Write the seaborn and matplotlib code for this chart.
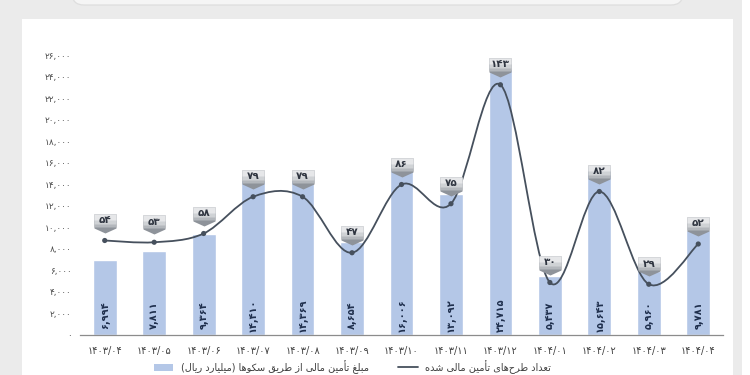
import numpy as np
import matplotlib
matplotlib.use('Agg')
import matplotlib.pyplot as plt
import seaborn as sns
from matplotlib.path import Path
from matplotlib.patches import PathPatch, Rectangle, FancyBboxPatch, Patch
from matplotlib.lines import Line2D

# data
periods = ['1403/04', '1403/05', '1403/06', '1403/07', '1403/08', '1403/09', '1403/10',
           '1403/11', '1403/12', '1404/01', '1404/02', '1404/03', '1404/04']
amounts = [6994, 7811, 9364, 14410, 14369, 8654, 16006, 13092, 24715, 5437, 15643, 5960, 9781]
counts = [54, 53, 58, 79, 79, 47, 86, 75, 143, 30, 82, 29, 52]
y_ticks = list(range(0, 26001, 2000))
legend_labels = ['مبلغ تأمین مالی از طریق سکوها (میلیارد ریال)',
                 'تعداد طرح‌های تأمین مالی شده']

BAR_COLOR = '#b4c7e7'
LINE_COLOR = '#46505d'

FA_DIGITS = str.maketrans('0123456789', '۰۱۲۳۴۵۶۷۸۹')


def fa(s):
    return str(s).translate(FA_DIGITS)


# minimal persian shaping (isolated, final, initial, medial)
FORMS = {
    'ا': ('\uFE8D', '\uFE8E', None, None),
    'أ': ('\uFE83', '\uFE84', None, None),
    'ب': ('\uFE8F', '\uFE90', '\uFE91', '\uFE92'),
    'ت': ('\uFE95', '\uFE96', '\uFE97', '\uFE98'),
    'ح': ('\uFEA1', '\uFEA2', '\uFEA3', '\uFEA4'),
    'د': ('\uFEA9', '\uFEAA', None, None),
    'ر': ('\uFEAD', '\uFEAE', None, None),
    'ز': ('\uFEAF', '\uFEB0', None, None),
    'س': ('\uFEB1', '\uFEB2', '\uFEB3', '\uFEB4'),
    'ش': ('\uFEB5', '\uFEB6', '\uFEB7', '\uFEB8'),
    'ط': ('\uFEC1', '\uFEC2', '\uFEC3', '\uFEC4'),
    'ع': ('\uFEC9', '\uFECA', '\uFECB', '\uFECC'),
    'غ': ('\uFECD', '\uFECE', '\uFECF', '\uFED0'),
    'ق': ('\uFED5', '\uFED6', '\uFED7', '\uFED8'),
    'ک': ('\uFB8E', '\uFB8F', '\uFB90', '\uFB91'),
    'ل': ('\uFEDD', '\uFEDE', '\uFEDF', '\uFEE0'),
    'م': ('\uFEE1', '\uFEE2', '\uFEE3', '\uFEE4'),
    'ن': ('\uFEE5', '\uFEE6', '\uFEE7', '\uFEE8'),
    'ه': ('\uFEE9', '\uFEEA', '\uFEEB', '\uFEEC'),
    'و': ('\uFEED', '\uFEEE', None, None),
    'ی': ('\uFBFC', '\uFBFD', '\uFBFE', '\uFBFF'),
}


def shape(text):
    def links_left(c):
        return c in FORMS and FORMS[c][2] is not None
    out = []
    for i, c in enumerate(text):
        if c == '\u200c':
            continue
        if c not in FORMS:
            out.append({'(': ')', ')': '('}.get(c, c))
            continue
        prev_join = i > 0 and links_left(text[i - 1])
        next_join = i < len(text) - 1 and text[i + 1] in FORMS and links_left(c)
        iso, fin, ini, med = FORMS[c]
        if prev_join and next_join:
            out.append(med)
        elif prev_join:
            out.append(fin)
        elif next_join:
            out.append(ini)
        else:
            out.append(iso)
    return ''.join(reversed(out))


sns.set_theme(style='white')
plt.rcParams['font.family'] = ['DejaVu Sans']

fig = plt.figure(figsize=(7.5, 3.75), dpi=100)
fig.patch.set_facecolor('#ebebeb')
fig.add_artist(Rectangle((22 / 750, 0), (733 - 22) / 750, (375 - 19) / 375,
                         transform=fig.transFigure, facecolor='white', edgecolor='none', zorder=0))
fig.add_artist(Rectangle((742 / 750, 0), 8 / 750, 1, transform=fig.transFigure,
                         facecolor='white', edgecolor='none', zorder=0))
fig.add_artist(FancyBboxPatch((0.72, 3.70), 6.11, 0.4, boxstyle='round,pad=0,rounding_size=0.12',
                              transform=fig.dpi_scale_trans, facecolor='#f5f5f5',
                              edgecolor='#dedede', lw=0.9, zorder=0))

ax = fig.add_axes([80 / 750, 40 / 375, 643 / 750, 280 / 375])
ax.set_facecolor('none')
sns.barplot(x=periods, y=amounts, color=BAR_COLOR, saturation=1, width=0.48, ax=ax)

x_pos = np.arange(len(periods))
ax.set_xlim(-0.5, len(periods) - 0.5)
ax.set_ylim(0, 26000)
ax.set_yticks(y_ticks)
ax.set_yticklabels([fa(f'{v:,}') for v in y_ticks], fontsize=6.5, color='#4d4d4d')
ax.set_xticks(x_pos)
ax.set_xticklabels([fa(p) for p in periods], fontsize=7, color='#404040')
ax.set_xticks(np.arange(-0.5, len(periods)), minor=True)
ax.tick_params(axis='y', length=0, pad=6)
ax.tick_params(axis='x', which='major', length=0, pad=8)
ax.tick_params(axis='x', which='minor', length=4, width=0.7, color='#8c8c8c', direction='out')
ax.set_xlabel('')
ax.set_ylabel('')
for side in ['top', 'right', 'left']:
    ax.spines[side].set_visible(False)
ax.spines['bottom'].set_color('#8c8c8c')
ax.spines['bottom'].set_linewidth(0.9)

for i, v in enumerate(amounts):
    ax.text(i, 1800, fa(f'{v:,}'), rotation=90, ha='center', va='center',
            fontsize=7, fontweight='bold', color='#1f2f4d')

# secondary axis for the count line
ax2 = ax.twinx()
ax2.set_ylim(0, 160)
ax2.set_axis_off()

# smooth line (catmull-rom as bezier, like excel's smoothed line)
pts = np.column_stack([x_pos, counts]).astype(float)
verts = [pts[0]]
codes = [Path.MOVETO]
for k in range(len(pts) - 1):
    p_prev = pts[k - 1] if k > 0 else pts[k]
    p_next = pts[k + 2] if k + 2 < len(pts) else pts[k + 1]
    c1 = pts[k] + (pts[k + 1] - p_prev) / 6
    c2 = pts[k + 1] - (p_next - pts[k]) / 6
    verts += [c1, c2, pts[k + 1]]
    codes += [Path.CURVE4] * 3
ax2.add_patch(PathPatch(Path(verts, codes), facecolor='none', edgecolor=LINE_COLOR, lw=1.3, zorder=3))
sns.scatterplot(x=x_pos, y=counts, ax=ax2, color=LINE_COLOR, s=14, edgecolor='none', zorder=4)

# callout boxes above the points (shape in pixel offsets)
PX = 100 / 72
bands = [
    ([(-11, 27), (11, 27), (11, 13), (0, 8), (-11, 13), (-11, 27)], '#8e939a'),
    ([(-11, 27), (11, 27), (11, 14), (-11, 14), (-11, 27)], '#b3b7bc'),
    ([(-11, 27), (11, 27), (11, 17.5), (-11, 17.5), (-11, 27)], '#cfd2d5'),
    ([(-11, 27), (11, 27), (11, 21.5), (-11, 21.5), (-11, 27)], '#e6e7e9'),
]
for i, c in enumerate(counts):
    for shp, col in bands:
        ax2.plot(i, c, marker=shp, ms=2 * 27 / PX, color=col, mec='none', zorder=5,
                 linestyle='none', clip_on=False)
    ax2.annotate(fa(c), (i, c), xytext=(0, 20.5 / PX), textcoords='offset points',
                 ha='center', va='center', fontsize=7.5, fontweight='bold',
                 color='#2f3540', zorder=6)

handles = [Patch(facecolor=BAR_COLOR, edgecolor='none'),
           Line2D([], [], color=LINE_COLOR, lw=1.3)]
fig.legend(handles, [shape(t) for t in legend_labels], loc='center',
           bbox_to_anchor=(0.47, 0.022), ncol=2, frameon=False, fontsize=7,
           handlelength=2.0, columnspacing=3.0, labelcolor='#404040')

fig.savefig('out.png', dpi=100)
